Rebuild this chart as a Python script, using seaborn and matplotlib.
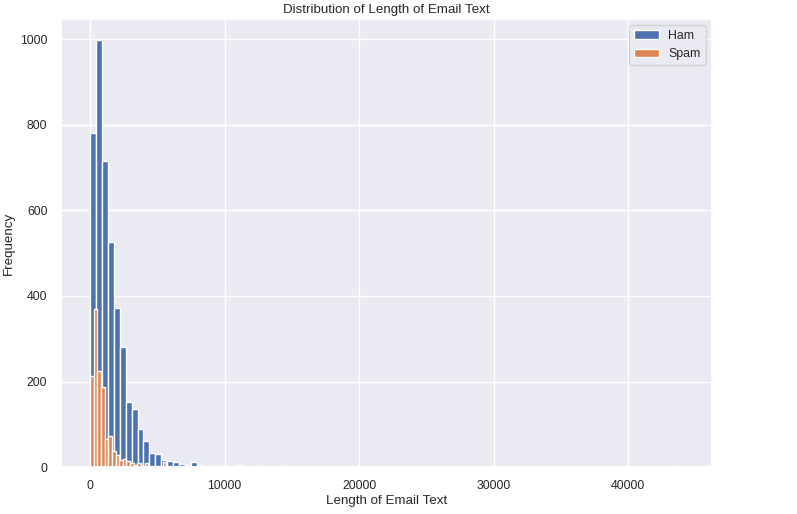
import numpy as np
import pandas as pd
import matplotlib
matplotlib.use("Agg")
import matplotlib.pyplot as plt
import seaborn as sns

sns.set_theme(font_scale=0.8)
plt.rcParams['font.family'] = ['Liberation Sans', 'DejaVu Sans']

ham_bin_width = 440
ham_counts = [780, 997, 715, 525, 373, 280, 153, 137, 90, 62, 33, 32, 17, 15, 12, 7, 6, 12, 5, 3,
              4, 2, 3, 1, 1, 5, 1, 1, 2, 1, 1, 0, 2, 1, 1, 0, 1, 0, 0, 0,
              1, 0, 1, 0, 0, 0, 1, 0, 0, 0, 1, 0, 0, 0, 0, 0, 0, 0, 0, 0,
              0, 0, 0, 0, 0, 0, 0, 0, 0, 0, 0, 0, 0, 0, 0, 0, 0, 0, 0, 0,
              0, 0, 0, 0, 0, 0, 0, 0, 0, 0, 0, 0, 0, 0, 0, 0, 0, 0, 0, 2]
spam_bin_width = 270
spam_counts = [213, 370, 225, 188, 65, 72, 37, 28, 17, 20, 14, 9, 6, 10, 3, 9, 4, 3, 2, 1,
               12, 2, 3, 1, 2, 1, 1, 0, 0, 1, 1, 0, 0, 3, 1, 0, 1, 0, 0, 1,
               0, 0, 0, 0, 0, 0, 0, 0, 0, 0, 0, 0, 0, 0, 0, 0, 0, 0, 0, 0,
               0, 0, 0, 0, 0, 0, 0, 0, 0, 0, 0, 0, 0, 0, 0, 0, 0, 0, 0, 0,
               0, 0, 0, 0, 0, 0, 0, 0, 0, 0, 0, 0, 0, 0, 0, 0, 0, 0, 0, 1]

ham_edges = [i * ham_bin_width for i in range(len(ham_counts) + 1)]
spam_edges = [i * spam_bin_width for i in range(len(spam_counts) + 1)]
ham_df = pd.DataFrame({"x": np.array(ham_edges[:-1]) + ham_bin_width / 2, "w": ham_counts})
spam_df = pd.DataFrame({"x": np.array(spam_edges[:-1]) + spam_bin_width / 2, "w": spam_counts})

fig, ax = plt.subplots(figsize=(7.97, 5.14), dpi=100)
sns.histplot(data=ham_df, x="x", weights="w", bins=ham_edges,
             color="#4c72b0", alpha=1, edgecolor="white", linewidth=1, label="Ham", ax=ax)
sns.histplot(data=spam_df, x="x", weights="w", bins=spam_edges,
             color="#dd8452", alpha=1, edgecolor="white", linewidth=1, label="Spam", ax=ax)
ax.set_title("Distribution of Length of Email Text", pad=4)
ax.set_xlabel("Length of Email Text", labelpad=2)
ax.set_ylabel("Frequency", labelpad=4)
ax.legend(loc="upper right")
fig.subplots_adjust(left=0.076, right=0.893, top=0.963, bottom=0.091)
fig.savefig("out.png")
